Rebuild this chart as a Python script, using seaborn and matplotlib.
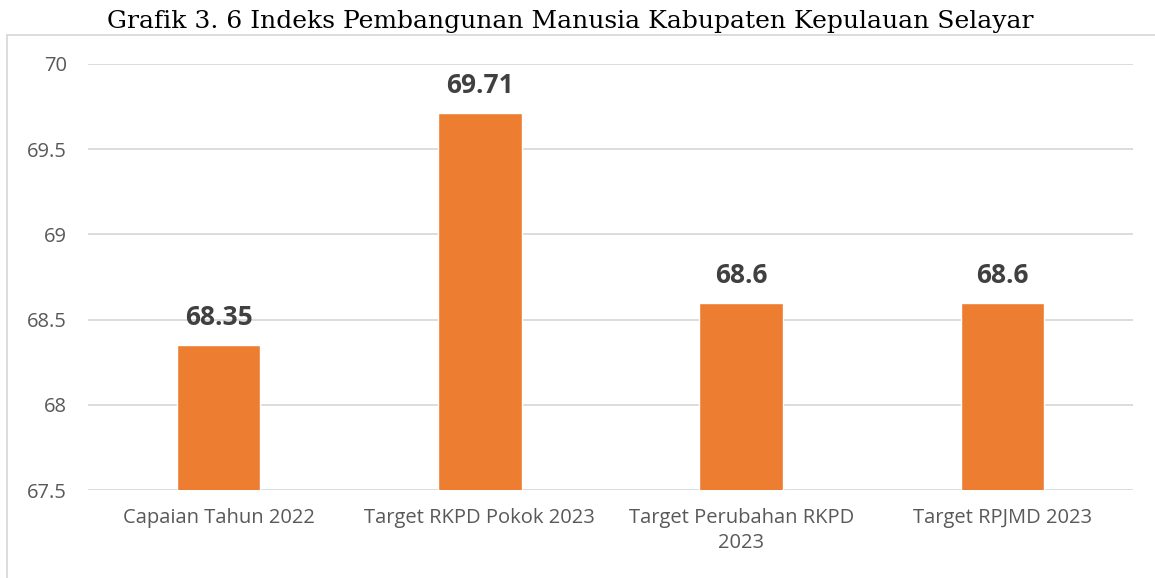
import matplotlib
matplotlib.use("Agg")
import matplotlib.pyplot as plt
import seaborn as sns
import pandas as pd
from matplotlib.patches import Rectangle

# data
categories = ["Capaian Tahun 2022", "Target RKPD Pokok 2023",
              "Target Perubahan RKPD\n2023", "Target RPJMD 2023"]
values = [68.35, 69.71, 68.6, 68.6]
value_labels = ["68.35", "69.71", "68.6", "68.6"]
y_ticks = [67.5, 68, 68.5, 69, 69.5, 70]
y_tick_labels = ["67.5", "68", "68.5", "69", "69.5", "70"]

df = pd.DataFrame({"Kategori": categories, "Nilai": values})

sns.set_theme(style="white")
plt.rcParams["font.family"] = ["Open Sans", "DejaVu Sans"]

fig = plt.figure(figsize=(11.55, 5.78), dpi=100)
ax = fig.add_axes([0.0762, 0.152, 0.9048, 0.7374])

sns.barplot(data=df, x="Kategori", y="Nilai", color="#ED7D31",
            width=0.32, saturation=1, ax=ax, zorder=3)

ax.set_ylim(67.5, 70)
ax.set_xlim(-0.5, 3.5)
ax.set_yticks(y_ticks)
ax.set_yticklabels(y_tick_labels)
ax.yaxis.grid(True, color="#D9D9D9", linewidth=1.3, zorder=0)
ax.set_axisbelow(True)
for s in ax.spines.values():
    s.set_visible(False)
ax.tick_params(axis="both", length=0, labelsize=14.5, labelcolor="#595959")
ax.tick_params(axis="y", pad=15)
ax.tick_params(axis="x", pad=13)
for t in ax.get_xticklabels():
    t.set_linespacing(1.35)
ax.set_xlabel("")
ax.set_ylabel("")

for i, (v, lab) in enumerate(zip(values, value_labels)):
    ax.annotate(lab, (i, v), xytext=(0, 10), textcoords="offset points",
                ha="center", va="bottom", fontsize=19, fontweight="bold",
                color="#404040")

fig.text(0.4935, 0.962, "Grafik 3. 6 Indeks Pembangunan Manusia Kabupaten Kepulauan Selayar",
         ha="center", va="center", fontsize=18, family="DejaVu Serif", color="#000000")

# light frame around the chart area (cut off at right/bottom in the original)
fig.add_artist(Rectangle((7 / 1155, -0.05), 1.1, 1 - 35 / 578 + 0.05,
                         transform=fig.transFigure, fill=False,
                         edgecolor="#D9D9D9", linewidth=1.3))

fig.savefig("out.png", dpi=100)
